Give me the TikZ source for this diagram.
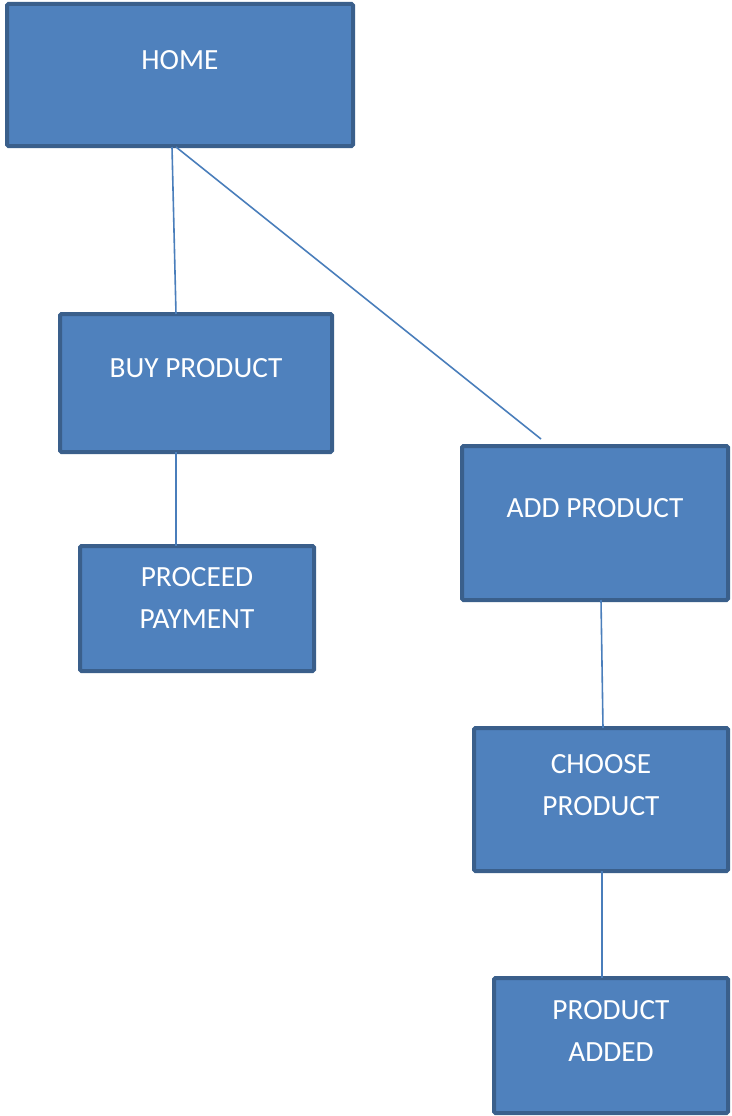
\documentclass[tikz,border=0pt]{standalone}
\usepackage{fontspec}
\setmainfont{Carlito}
\definecolor{boxfill}{HTML}{4F81BD}
\definecolor{boxline}{HTML}{3A5F8B}
\definecolor{conn}{HTML}{4A7EBB}
\begin{document}
\begin{tikzpicture}[x=1pt,y=-1pt,
  box/.style={draw=boxline, fill=boxfill, line width=4pt, rounded corners=1.5pt, rectangle, inner sep=0pt, outer sep=0pt, anchor=north west},
  txt/.style={text=white, font=\fontsize{29.3}{42}\selectfont, align=center, inner sep=0pt},
  link/.style={draw=conn, line width=1.6pt}]
\useasboundingbox (0,0) rectangle (731,1116);
% boxes
\node[box, minimum width=346pt, minimum height=142pt] (home) at (7,4) {};
\node[box, minimum width=272pt, minimum height=138pt] (buy) at (60,314) {};
\node[box, minimum width=234pt, minimum height=125pt] (pay) at (80,546) {};
\node[box, minimum width=266pt, minimum height=154pt] (add) at (462,446) {};
\node[box, minimum width=254pt, minimum height=143pt] (choose) at (474,728) {};
\node[box, minimum width=234pt, minimum height=135pt] (added) at (494,978) {};
% texts
\node[txt] (homet) at (180,60) {HOME};
\node[txt] (buyt) at (196,368) {BUY PRODUCT};
\node[txt] (payt) at (197,598) {PROCEED\\PAYMENT};
\node[txt] (addt) at (595,508) {ADD PRODUCT};
\node[txt] (chooset) at (601,785) {CHOOSE\\PRODUCT};
\node[txt] (addedt) at (611,1031) {PRODUCT\\ADDED};
% connectors
\coordinate (addfree) at ([xshift=-54pt,yshift=7pt]add.north);
\draw[link] ([xshift=-8pt,yshift=-1pt]home.south) -- ([xshift=-20pt]buy.north);
\draw[link] ([xshift=-4pt,yshift=-1pt]home.south) -- (addfree);
\draw[link] ([xshift=-20pt]buy.south) -- ([xshift=-21pt]pay.north);
\draw[link] ([xshift=6pt]add.south) -- ([xshift=2pt]choose.north);
\draw[link] ([xshift=1pt]choose.south) -- ([xshift=-9pt]added.north);
\end{tikzpicture}
\end{document}
